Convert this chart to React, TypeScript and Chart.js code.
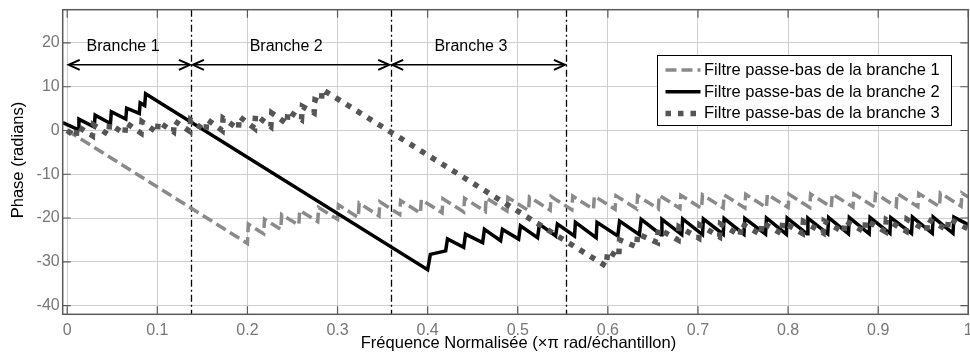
import React, { useEffect, useRef } from "react";
import { Chart, registerables } from "chart.js";

Chart.register(...registerables);

// ---- data ----
const seriesLabels = [
  "Filtre passe-bas de la branche 1",
  "Filtre passe-bas de la branche 2",
  "Filtre passe-bas de la branche 3",
];

const s1X = [0, 0.2, 0.201, 0.218, 0.219, 0.237, 0.238, 0.257, 0.258, 0.278, 0.279, 0.3, 0.301, 0.323, 0.324, 0.346, 0.347, 0.369, 0.37, 0.392, 0.393, 0.416, 0.417, 0.44, 0.441, 0.464, 0.465, 0.488, 0.489, 0.512, 0.513, 0.536, 0.537, 0.56, 0.561, 0.584, 0.585, 0.608, 0.609, 0.632, 0.633, 0.656, 0.657, 0.68, 0.681, 0.704, 0.705, 0.728, 0.729, 0.752, 0.753, 0.776, 0.777, 0.8, 0.801, 0.824, 0.825, 0.848, 0.849, 0.872, 0.873, 0.896, 0.897, 0.92, 0.921, 0.944, 0.945, 0.968, 0.969, 0.992, 0.993, 1.0];
const s1Y = [0, -25.8, -21.4, -23.6, -20.3, -22.6, -19.2, -21.6, -18.3, -20.8, -17.6, -20.3, -17.0, -19.9, -16.6, -19.5, -16.3, -19.2, -16.0, -18.9, -15.8, -18.8, -15.6, -18.6, -15.5, -18.5, -15.4, -18.4, -15.3, -18.3, -15.2, -18.2, -15.1, -18.1, -15.0, -18.0, -15.0, -18.0, -14.9, -17.9, -14.9, -17.9, -14.8, -17.8, -14.8, -17.8, -14.7, -17.7, -14.7, -17.7, -14.6, -17.6, -14.6, -17.6, -14.6, -17.6, -14.5, -17.5, -14.5, -17.5, -14.5, -17.5, -14.4, -17.4, -14.4, -17.4, -14.4, -17.4, -14.3, -17.3, -14.3, -15.2];

const s2X = [-0.005, 0.012, 0.013, 0.03, 0.031, 0.048, 0.049, 0.065, 0.066, 0.08, 0.081, 0.086, 0.087, 0.4, 0.403, 0.42, 0.422, 0.44, 0.442, 0.461, 0.463, 0.481, 0.483, 0.501, 0.503, 0.522, 0.524, 0.542, 0.544, 0.563, 0.564, 0.587, 0.588, 0.611, 0.613, 0.635, 0.637, 0.659, 0.66, 0.682, 0.683, 0.705, 0.706, 0.728, 0.729, 0.751, 0.752, 0.775, 0.776, 0.798, 0.799, 0.821, 0.822, 0.844, 0.845, 0.867, 0.868, 0.89, 0.891, 0.913, 0.914, 0.937, 0.938, 0.96, 0.961, 0.983, 0.984, 1.0];
const s2Y = [1.8, 0.2, 2.6, 0.8, 3.5, 1.6, 4.3, 2.6, 5.1, 3.9, 6.3, 5.7, 8.4, -31.8, -28.3, -27.5, -24.8, -26.7, -23.7, -25.6, -22.6, -25.2, -22.6, -24.8, -21.8, -24.5, -21.4, -24.1, -21.4, -24.1, -21.0, -24.5, -21.0, -24.1, -20.7, -23.8, -20.3, -23.8, -20.3, -23.8, -20.2, -23.8, -20.2, -23.7, -20.1, -23.7, -20.1, -23.7, -20.0, -23.7, -20.0, -23.6, -20.0, -23.6, -19.9, -23.6, -19.9, -23.6, -19.9, -23.5, -19.9, -23.5, -19.8, -23.5, -19.8, -23.5, -19.8, -21.5];

const s3X = [0, 0.01, 0.011, 0.028, 0.029, 0.046, 0.047, 0.064, 0.065, 0.082, 0.083, 0.1, 0.101, 0.118, 0.119, 0.136, 0.137, 0.154, 0.155, 0.172, 0.173, 0.19, 0.191, 0.208, 0.209, 0.226, 0.227, 0.244, 0.245, 0.26, 0.261, 0.274, 0.275, 0.282, 0.283, 0.598, 0.6, 0.612, 0.613, 0.632, 0.633, 0.655, 0.656, 0.678, 0.679, 0.701, 0.702, 0.724, 0.725, 0.747, 0.748, 0.77, 0.771, 0.793, 0.794, 0.816, 0.817, 0.839, 0.84, 0.862, 0.863, 0.885, 0.886, 0.908, 0.909, 0.931, 0.932, 0.954, 0.955, 0.977, 0.978, 1.0];
const s3Y = [0, -1.5, 1.0, -1.2, 1.3, -1.0, 1.5, -0.8, 1.8, -0.6, 2.0, -0.5, 2.0, -0.3, 2.2, -0.2, 2.4, -0.2, 2.6, 0.0, 2.8, 0.3, 3.2, 0.5, 3.6, 0.9, 4.0, 1.5, 4.5, 2.5, 5.5, 4.0, 7.0, 6.5, 9.4, -31.0, -27.5, -29.0, -25.0, -26.6, -23.6, -25.6, -22.5, -25.0, -22.0, -24.6, -21.6, -24.3, -21.4, -24.0, -21.2, -23.8, -21.0, -23.6, -20.9, -23.5, -20.8, -23.4, -20.7, -23.3, -20.6, -23.2, -20.5, -23.1, -20.4, -23.0, -20.3, -22.9, -20.2, -22.8, -20.1, -22.5];

const bandEdges = [0, 0.1378, 0.359, 0.554];
const bandLabels = ["Branche 1", "Branche 2", "Branche 3"];
const bandLabelX = [0.062, 0.243, 0.448];
const bandLabelY = 19.2;
const arrowY = 15;

const xTitle = "Fréquence Normalisée (×π rad/échantillon)";
const yTitle = "Phase (radians)";

const FONT = "'Liberation Sans', Arial, Helvetica, sans-serif";

const toPoints = (xs: number[], ys: number[]) => xs.map((x, i) => ({ x, y: ys[i] }));

const overlayPlugin = {
  id: "overlay",
  beforeDatasetsDraw(chart: any) {
    const { ctx, chartArea: a, scales } = chart;
    const xs = scales.x;
    ctx.save();
    ctx.strokeStyle = "#000";
    ctx.lineWidth = 1.3;
    ctx.setLineDash([7, 3, 2, 3]);
    for (const e of bandEdges.slice(1)) {
      const px = Math.round(xs.getPixelForValue(e)) + 0.5;
      ctx.beginPath();
      ctx.moveTo(px, a.top);
      ctx.lineTo(px, a.bottom);
      ctx.stroke();
    }
    ctx.restore();
  },
  afterDatasetsDraw(chart: any) {
    const { ctx, chartArea: a, scales } = chart;
    const xs = scales.x;
    const ys = scales.y;
    ctx.save();

    // border + inward ticks
    ctx.strokeStyle = "#5a5a5a";
    ctx.lineWidth = 1.5;
    ctx.setLineDash([]);
    ctx.strokeRect(a.left, a.top, a.right - a.left, a.bottom - a.top);
    ctx.lineWidth = 1.2;
    const tl = 8;
    for (const t of xs.ticks) {
      const px = xs.getPixelForValue(t.value);
      ctx.beginPath();
      ctx.moveTo(px, a.bottom);
      ctx.lineTo(px, a.bottom - tl);
      ctx.moveTo(px, a.top);
      ctx.lineTo(px, a.top + tl);
      ctx.stroke();
    }
    for (const t of ys.ticks) {
      const py = ys.getPixelForValue(t.value);
      ctx.beginPath();
      ctx.moveTo(a.left, py);
      ctx.lineTo(a.left + tl, py);
      ctx.moveTo(a.right, py);
      ctx.lineTo(a.right - tl, py);
      ctx.stroke();
    }

    // arrows
    ctx.strokeStyle = "#000";
    ctx.lineWidth = 1.5;
    const ay = ys.getPixelForValue(arrowY);
    for (let i = 0; i < bandEdges.length - 1; i++) {
      const x1 = xs.getPixelForValue(bandEdges[i]) + 1.5;
      const x2 = xs.getPixelForValue(bandEdges[i + 1]) - 1.5;
      ctx.beginPath();
      ctx.moveTo(x1, ay);
      ctx.lineTo(x2, ay);
      ctx.stroke();
      ctx.lineWidth = 2;
      ctx.beginPath();
      ctx.moveTo(x1 + 11, ay - 5);
      ctx.lineTo(x1, ay);
      ctx.lineTo(x1 + 11, ay + 5);
      ctx.moveTo(x2 - 11, ay - 5);
      ctx.lineTo(x2, ay);
      ctx.lineTo(x2 - 11, ay + 5);
      ctx.stroke();
      ctx.lineWidth = 1.5;
    }
    ctx.fillStyle = "#000";
    ctx.font = `16px ${FONT}`;
    ctx.textAlign = "center";
    ctx.textBaseline = "middle";
    bandLabels.forEach((lab, i) => {
      ctx.fillText(lab, xs.getPixelForValue(bandLabelX[i]), ys.getPixelForValue(bandLabelY));
    });

    // legend
    const lx = 657.5, ly = 55.5, lw = 294, lh = 70;
    ctx.fillStyle = "#fff";
    ctx.fillRect(lx, ly, lw, lh);
    ctx.strokeStyle = "#000";
    ctx.lineWidth = 1;
    ctx.strokeRect(lx, ly, lw, lh);
    chart.data.datasets.forEach((ds: any, i: number) => {
      const ry = ly + 14.5 + i * 21.7;
      ctx.save();
      ctx.strokeStyle = ds.borderColor;
      ctx.lineWidth = ds.borderWidth;
      ctx.setLineDash(ds.borderDash || []);
      ctx.beginPath();
      ctx.moveTo(lx + 8, ry);
      ctx.lineTo(lx + 43, ry);
      ctx.stroke();
      ctx.restore();
      ctx.fillStyle = "#000";
      ctx.font = `16.5px ${FONT}`;
      ctx.textAlign = "left";
      ctx.textBaseline = "middle";
      ctx.fillText(ds.label, lx + 46.5, ry + 0.5);
    });

    // axis titles
    ctx.fillStyle = "#000";
    ctx.font = `16.5px ${FONT}`;
    ctx.textAlign = "center";
    ctx.textBaseline = "middle";
    ctx.fillText(xTitle, (a.left + a.right) / 2 + 3, 343.5);
    ctx.save();
    ctx.translate(18.5, (a.top + a.bottom) / 2 - 2);
    ctx.rotate(-Math.PI / 2);
    ctx.fillText(yTitle, 0, 0);
    ctx.restore();

    ctx.restore();
  },
};

export default function App() {
  const ref = useRef<HTMLCanvasElement | null>(null);

  useEffect(() => {
    if (!ref.current) return;
    const chart = new Chart(ref.current, {
      type: "scatter",
      data: {
        datasets: [
          {
            label: seriesLabels[0],
            data: toPoints(s1X, s1Y),
            showLine: true,
            borderColor: "#8a8a8a",
            borderWidth: 3.5,
            borderDash: [11, 5],
            pointRadius: 0,
            tension: 0,
            order: 3,
            borderJoinStyle: "miter",
          },
          {
            label: seriesLabels[1],
            data: toPoints(s2X, s2Y),
            showLine: true,
            borderColor: "#000000",
            borderWidth: 3.5,
            pointRadius: 0,
            tension: 0,
            order: 2,
            borderJoinStyle: "miter",
          },
          {
            label: seriesLabels[2],
            data: toPoints(s3X, s3Y),
            showLine: true,
            borderColor: "#555555",
            borderWidth: 5.5,
            borderDash: [5.5, 7],
            pointRadius: 0,
            tension: 0,
            order: 1,
            borderJoinStyle: "miter",
          },
        ],
      },
      options: {
        animation: false,
        responsive: false,
        maintainAspectRatio: false,
        layout: { padding: { top: 9.7, right: 1.7, left: 0, bottom: 0 } },
        plugins: {
          legend: { display: false },
          tooltip: { enabled: false },
          title: { display: false },
        },
        scales: {
          x: {
            type: "linear",
            min: -0.005,
            max: 1,
            border: { display: false },
            grid: { color: "#cfcfcf", lineWidth: 1, drawTicks: false },
            ticks: {
              stepSize: 0.1,
              includeBounds: false,
              maxRotation: 0,
              autoSkip: false,
              padding: 7,
              color: "#777777",
              font: { family: FONT, size: 16 },
              callback: (v: any) => String(Math.round(Number(v) * 10) / 10),
            },
            afterFit: (s: any) => {
              s.height = 43.7;
              s.paddingLeft = 0;
              s.paddingRight = 0;
            },
          },
          y: {
            type: "linear",
            min: -42,
            max: 27.6,
            border: { display: false },
            grid: { color: "#cfcfcf", lineWidth: 1, drawTicks: false },
            ticks: {
              stepSize: 10,
              includeBounds: false,
              autoSkip: false,
              padding: 3,
              color: "#777777",
              font: { family: FONT, size: 16 },
              callback: (v: any) => String(v),
            },
            afterFit: (s: any) => {
              s.width = 62.7;
              s.paddingTop = 0;
              s.paddingBottom = 0;
            },
          },
        },
      },
      plugins: [overlayPlugin],
    } as any);
    return () => chart.destroy();
  }, []);

  return (
    <div style={{ position: "absolute", left: 0, top: 0, width: 970, height: 358, background: "#fff" }}>
      <canvas ref={ref} width={970} height={358} style={{ width: 970, height: 358, display: "block" }} />
    </div>
  );
}
